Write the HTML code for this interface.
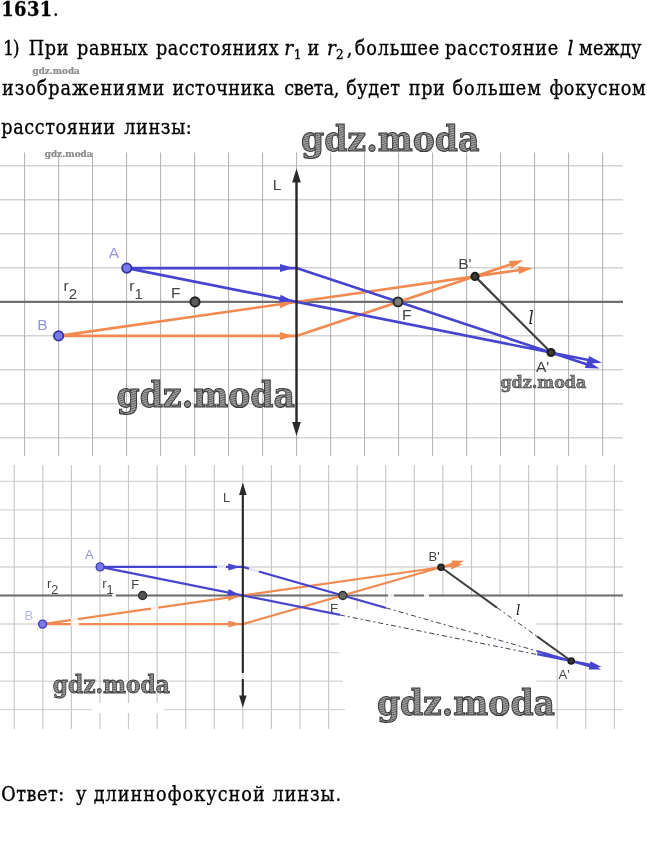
<!DOCTYPE html>
<html lang="ru"><head><meta charset="utf-8"><title>1631</title>
<style>
html,body{margin:0;padding:0;background:#fff}
body{width:647px;height:842px;position:relative;overflow:hidden}
svg{position:absolute;left:0;top:0;display:block}
svg text{font-family:"Liberation Sans",sans-serif}
</style></head><body>
<svg width="647" height="842" viewBox="0 0 647 842">
<defs><pattern id="hatch" width="2.2" height="2.2" patternUnits="userSpaceOnUse" patternTransform="rotate(-18)"><rect width="2.2" height="2.2" fill="#a4a4a4"/><rect width="2.2" height="0.9" fill="#5e5e5e"/></pattern></defs>
<path d="M0 165.8H623M0 199.8H623M0 233.8H623M0 267.8H623M0 301.8H623M0 335.8H623M0 369.8H623M0 403.8H623M0 437.8H623" stroke="#d4d4d4" stroke-width="1.5" fill="none"/>
<path d="M24.6 152.5V456M58.6 152.5V456M92.6 152.5V456M126.6 152.5V456M160.6 152.5V456M194.6 152.5V456M228.6 152.5V456M262.6 152.5V456M296.6 152.5V456M330.6 152.5V456M364.6 152.5V456M398.6 152.5V456M432.6 152.5V456M466.6 152.5V456M500.6 152.5V456M534.6 152.5V456M568.6 152.5V456M602.6 152.5V456" stroke="#a6a6a6" stroke-width="0.9" fill="none"/>
<path d="M0 301.9H623" stroke="#6e6e6e" stroke-width="2.4"/>
<path d="M58.6 335.9H296.5L512.7 263.8M58.6 335.9L521.3 269.8" stroke="#f08a50" stroke-width="2.6" fill="none" stroke-linejoin="round"/>
<path d="M294.0 335.9L280.0 339.9L280.0 331.9ZM293.5 302.3L280.2 308.3L279.1 300.3ZM523.4 260.2L511.4 268.4L508.8 260.9ZM532.4 268.2L519.1 274.1L518.0 266.2Z" fill="#f08a50"/>
<path d="M126.8 268.1H296.5L588.8 365.1M126.8 268.1L591.0 360.5" stroke="#4744d0" stroke-width="2.6" fill="none" stroke-linejoin="round"/>
<path d="M294.0 268.1L280.0 272.1L280.0 264.1ZM293.5 301.3L279.0 302.5L280.6 294.7ZM599.4 368.6L584.8 368.0L587.4 360.4ZM602.0 362.7L587.5 363.8L589.0 356.0Z" fill="#4744d0"/>
<path d="M296.5 178V426" stroke="#262626" stroke-width="2.4"/>
<path d="M296.5 168.5L300.8 182.5L292.2 182.5ZM296.5 436.0L292.2 422.0L300.8 422.0Z" fill="#2a2a2a"/>
<path d="M475.0 276.4L551.0 352.5" stroke="#3c3c3c" stroke-width="2.2"/>
<circle cx="126.8" cy="268.1" r="4.7" fill="#7a78ee" stroke="#33339c" stroke-width="1.8"/>
<circle cx="58.6" cy="335.9" r="4.7" fill="#7a78ee" stroke="#33339c" stroke-width="1.8"/>
<circle cx="195.0" cy="301.9" r="4.6" fill="#5a5a5a" stroke="#222" stroke-width="1.9"/>
<circle cx="398.0" cy="301.9" r="4.5" fill="#7a7a7a" stroke="#222" stroke-width="1.9"/>
<circle cx="475.0" cy="276.4" r="3.6" fill="#3a3a3a" stroke="#1e1e1e" stroke-width="2"/>
<circle cx="551.0" cy="352.5" r="3.6" fill="#3a3a3a" stroke="#1e1e1e" stroke-width="2"/>
<text x="272.8" y="190.3" font-size="15.5" fill="#444" >L</text>
<text x="108.8" y="257.5" font-size="15.5" fill="#9694e0" >A</text>
<text x="37.2" y="330.1" font-size="15.5" fill="#9694e0" >B</text>
<text x="63.6" y="291.3" font-size="15.5" fill="#444">r<tspan dy="7.8" font-size="15.0">2</tspan></text>
<text x="129.3" y="291.3" font-size="15.5" fill="#444">r<tspan dy="7.8" font-size="15.0">1</tspan></text>
<text x="171" y="297.6" font-size="15.5" fill="#444" >F</text>
<text x="402" y="320.2" font-size="15.5" fill="#444" >F</text>
<text x="458.2" y="268.8" font-size="15.5" fill="#444" >B'</text>
<text x="536" y="371.7" font-size="15.5" fill="#444" >A'</text>
<text x="528.5" y="323.8" font-size="18" fill="#222" style="font-family:'DejaVu Serif Condensed','Liberation Serif',serif;font-style:italic">l</text>
<path d="M0 481.3H623M0 509.9H623M0 538.4H623M0 567.0H623M0 595.5H623M0 624.0H623M0 652.6H623M0 681.1H623M0 709.7H623" stroke="#d6d6d6" stroke-width="1.3" fill="none"/>
<path d="M14.2 465V729M42.8 465V729M71.4 465V729M99.9 465V729M128.5 465V729M157.1 465V729M185.7 465V729M214.3 465V729M242.8 465V729M271.4 465V729M300.0 465V729M328.6 465V729M357.2 465V729M385.7 465V729M414.3 465V729M442.9 465V729M471.5 465V729M500.1 465V729M528.6 465V729M557.2 465V729M585.8 465V729M614.4 465V729" stroke="#c8c8c8" stroke-width="1.15" fill="none"/>
<path d="M340 613L386 603L395 597.3L536 597.3L536.5 735L342 735L346 700L340 690L347 670L338 650Z" fill="#fff"/>
<path d="M0 595.5H623" stroke="#6e6e6e" stroke-width="2"/>
<path d="M42.6 624.1H242.8L454.8 563.3M42.6 624.1L453.3 565.5" stroke="#f08a50" stroke-width="2.2" fill="none" stroke-linejoin="round"/>
<path d="M240.3 624.1L228.3 627.6L228.3 620.6ZM239.8 595.9L228.4 601.1L227.4 594.2ZM464.1 560.7L453.5 567.4L451.6 560.6ZM462.8 564.2L451.4 569.4L450.4 562.4Z" fill="#f08a50"/>
<path d="M100.1 566.9H242.8L591.8 666.9M100.1 566.9L592.2 665.2" stroke="#4744d0" stroke-width="2.2" fill="none" stroke-linejoin="round"/>
<path d="M240.3 566.9L228.3 570.4L228.3 563.4ZM239.8 594.9L227.3 596.0L228.7 589.1ZM601.0 669.5L588.5 669.6L590.4 662.9ZM601.6 667.1L589.1 668.2L590.5 661.3Z" fill="#4744d0"/>
<path d="M242.8 492V699" stroke="#262626" stroke-width="2.1"/>
<path d="M242.8 482.5L246.6 495.0L239.1 495.0ZM242.8 707.5L239.1 695.5L246.6 695.5Z" fill="#2a2a2a"/>
<path d="M441.0 567.3L571.2 661.0" stroke="#3c3c3c" stroke-width="2"/>
<path d="M386.0 607.9L537.0 651.0M340.0 615.0L537.0 654.5M497.0 607.6L537.0 636.4" stroke="#fff" stroke-width="4.5" fill="none"/>
<path d="M386.0 607.9L537.0 651.0M340.0 615.0L537.0 654.5M497.0 607.6L537.0 636.4" stroke="#2a2a40" stroke-width="0.9" stroke-dasharray="5 3 2 3" fill="none"/>
<path d="M217 567h9M249 568.7l10 2.9M71 620.2l7-1M71 624.1h8M112 595.5h4M388 595.5h6M424 595.5h5M151 608.7l7-1M242.8 673v6" stroke="#fff" stroke-width="3.2" fill="none" opacity="0.85"/>
<rect x="92" y="703" width="72" height="10" fill="#fff"/>
<circle cx="100.1" cy="566.9" r="4.0" fill="#7a78ee" stroke="#3a3aa8" stroke-width="1.3"/>
<circle cx="42.6" cy="624.1" r="4.0" fill="#7a78ee" stroke="#3a3aa8" stroke-width="1.3"/>
<circle cx="142.6" cy="595.5" r="4.0" fill="#555" stroke="#2a2a2a" stroke-width="1.3"/>
<circle cx="342.8" cy="595.5" r="4.0" fill="#666" stroke="#2a2a2a" stroke-width="1.3"/>
<circle cx="441.0" cy="567.3" r="2.9" fill="#3a3a3a" stroke="#1e1e1e" stroke-width="1.8"/>
<circle cx="571.2" cy="661.0" r="2.9" fill="#3a3a3a" stroke="#1e1e1e" stroke-width="1.8"/>
<text x="223" y="501.8" font-size="13" fill="#444" >L</text>
<text x="85" y="558.5" font-size="13" fill="#9694e0" >A</text>
<text x="24.5" y="619.5" font-size="13" fill="#b9b8ea" >B</text>
<text x="47.0" y="587.5" font-size="13" fill="#444">r<tspan dy="6.5" font-size="12.6">2</tspan></text>
<text x="102.2" y="587.5" font-size="13" fill="#444">r<tspan dy="6.5" font-size="12.6">1</tspan></text>
<text x="131.2" y="588.7" font-size="13" fill="#444" >F</text>
<text x="330" y="612.5" font-size="13" fill="#444" >F</text>
<text x="428.5" y="561" font-size="13" fill="#444" >B'</text>
<text x="558.5" y="678.5" font-size="13" fill="#444" >A'</text>
<text x="516" y="615" font-size="15" fill="#222" style="font-family:'DejaVu Serif Condensed','Liberation Serif',serif;font-style:italic">l</text>
<text x="301" y="150.8" textLength="178.5" lengthAdjust="spacingAndGlyphs" style="font-family:'DejaVu Serif','Liberation Serif',serif" font-weight="bold" font-size="36" fill="url(#hatch)" stroke="#3a3a3a" stroke-width="1.1">gdz.moda</text>
<text x="116.5" y="407" textLength="178.5" lengthAdjust="spacingAndGlyphs" style="font-family:'DejaVu Serif','Liberation Serif',serif" font-weight="bold" font-size="36" fill="url(#hatch)" stroke="#3a3a3a" stroke-width="1.1">gdz.moda</text>
<text x="500.4" y="387.5" textLength="86" lengthAdjust="spacingAndGlyphs" style="font-family:'DejaVu Serif','Liberation Serif',serif" font-weight="bold" font-size="17.5" fill="url(#hatch)" stroke="#3a3a3a" stroke-width="0.6">gdz.moda</text>
<text x="32.5" y="73.5" textLength="47.3" lengthAdjust="spacingAndGlyphs" style="font-family:'DejaVu Serif','Liberation Serif',serif" font-weight="bold" font-size="10" fill="#8e8e8e" stroke="#777" stroke-width="0.2">gdz.moda</text>
<text x="44.7" y="157" textLength="47.9" lengthAdjust="spacingAndGlyphs" style="font-family:'DejaVu Serif','Liberation Serif',serif" font-weight="bold" font-size="10" fill="#8e8e8e" stroke="#777" stroke-width="0.2">gdz.moda</text>
<text x="52.8" y="693.4" textLength="117" lengthAdjust="spacingAndGlyphs" style="font-family:'DejaVu Serif','Liberation Serif',serif" font-weight="bold" font-size="25" fill="url(#hatch)" stroke="#3a3a3a" stroke-width="0.9">gdz.moda</text>
<text x="376.9" y="714.5" textLength="178" lengthAdjust="spacingAndGlyphs" style="font-family:'DejaVu Serif','Liberation Serif',serif" font-weight="bold" font-size="36" fill="url(#hatch)" stroke="#3a3a3a" stroke-width="1.1">gdz.moda</text>
<text x="1.2" y="15.9" textLength="51.0" lengthAdjust="spacing" font-size="19.9" fill="#000" stroke="#000" stroke-width="0.3" style="font-family:'DejaVu Serif Condensed','DejaVu Serif','Liberation Serif',serif;font-weight:bold" >1631</text>
<text x="53.0" y="15.9" textLength="3.3" lengthAdjust="spacing" font-size="19.6" fill="#000" stroke="#000" stroke-width="0.3" style="font-family:'DejaVu Serif Condensed','DejaVu Serif','Liberation Serif',serif" >.</text>
<text x="3" y="55.2" textLength="16.7" lengthAdjust="spacing" font-size="19.6" fill="#000" stroke="#000" stroke-width="0.3" style="font-family:'DejaVu Serif Condensed','DejaVu Serif','Liberation Serif',serif" >1)</text>
<text x="28.7" y="55.2" textLength="39.7" lengthAdjust="spacing" font-size="19.6" fill="#000" stroke="#000" stroke-width="0.3" style="font-family:'DejaVu Serif Condensed','DejaVu Serif','Liberation Serif',serif" >При</text>
<text x="77" y="55.2" textLength="70.6" lengthAdjust="spacing" font-size="19.6" fill="#000" stroke="#000" stroke-width="0.3" style="font-family:'DejaVu Serif Condensed','DejaVu Serif','Liberation Serif',serif" >равных</text>
<text x="156" y="55.2" textLength="122.7" lengthAdjust="spacing" font-size="19.6" fill="#000" stroke="#000" stroke-width="0.3" style="font-family:'DejaVu Serif Condensed','DejaVu Serif','Liberation Serif',serif" >расстояниях</text>
<text x="307.6" y="55.2" textLength="10.8" lengthAdjust="spacing" font-size="19.6" fill="#000" stroke="#000" stroke-width="0.3" style="font-family:'DejaVu Serif Condensed','DejaVu Serif','Liberation Serif',serif" >и</text>
<text x="354.8" y="55.2" textLength="84.5" lengthAdjust="spacing" font-size="19.6" fill="#000" stroke="#000" stroke-width="0.3" style="font-family:'DejaVu Serif Condensed','DejaVu Serif','Liberation Serif',serif" >большее</text>
<text x="445" y="55.2" textLength="113.2" lengthAdjust="spacing" font-size="19.6" fill="#000" stroke="#000" stroke-width="0.3" style="font-family:'DejaVu Serif Condensed','DejaVu Serif','Liberation Serif',serif" >расстояние</text>
<text x="579" y="55.2" textLength="62.3" lengthAdjust="spacing" font-size="19.6" fill="#000" stroke="#000" stroke-width="0.3" style="font-family:'DejaVu Serif Condensed','DejaVu Serif','Liberation Serif',serif" >между</text>
<text x="284.2" y="55.2" textLength="8.4" lengthAdjust="spacing" font-size="20.5" fill="#000" stroke="#000" stroke-width="0.3" style="font-family:'DejaVu Serif Condensed','DejaVu Serif','Liberation Serif',serif;font-style:italic" >r</text>
<text x="293.7" y="58.800000000000004" textLength="6.3" lengthAdjust="spacing" font-size="13.5" fill="#000" stroke="#000" stroke-width="0.3" style="font-family:'DejaVu Serif Condensed','DejaVu Serif','Liberation Serif',serif" >1</text>
<text x="327" y="55.2" textLength="8.0" lengthAdjust="spacing" font-size="20.5" fill="#000" stroke="#000" stroke-width="0.3" style="font-family:'DejaVu Serif Condensed','DejaVu Serif','Liberation Serif',serif;font-style:italic" >r</text>
<text x="336" y="58.800000000000004" textLength="7.5" lengthAdjust="spacing" font-size="13.5" fill="#000" stroke="#000" stroke-width="0.3" style="font-family:'DejaVu Serif Condensed','DejaVu Serif','Liberation Serif',serif" >2</text>
<text x="346.8" y="55.2" textLength="2.5" lengthAdjust="spacing" font-size="19.6" fill="#000" stroke="#000" stroke-width="0.3" style="font-family:'DejaVu Serif Condensed','DejaVu Serif','Liberation Serif',serif" >,</text>
<text x="567.4" y="55.2" textLength="5.0" lengthAdjust="spacing" font-size="20.5" fill="#000" stroke="#000" stroke-width="0.3" style="font-family:'DejaVu Serif Condensed','DejaVu Serif','Liberation Serif',serif;font-style:italic" >l</text>
<text x="2" y="94.5" textLength="162.2" lengthAdjust="spacing" font-size="19.6" fill="#000" stroke="#000" stroke-width="0.3" style="font-family:'DejaVu Serif Condensed','DejaVu Serif','Liberation Serif',serif" >изображениями</text>
<text x="172.5" y="94.5" textLength="102.2" lengthAdjust="spacing" font-size="19.6" fill="#000" stroke="#000" stroke-width="0.3" style="font-family:'DejaVu Serif Condensed','DejaVu Serif','Liberation Serif',serif" >источника</text>
<text x="284.2" y="94.5" textLength="55.1" lengthAdjust="spacing" font-size="19.6" fill="#000" stroke="#000" stroke-width="0.3" style="font-family:'DejaVu Serif Condensed','DejaVu Serif','Liberation Serif',serif" >света,</text>
<text x="346.3" y="94.5" textLength="53.8" lengthAdjust="spacing" font-size="19.6" fill="#000" stroke="#000" stroke-width="0.3" style="font-family:'DejaVu Serif Condensed','DejaVu Serif','Liberation Serif',serif" >будет</text>
<text x="408.8" y="94.5" textLength="36.0" lengthAdjust="spacing" font-size="19.6" fill="#000" stroke="#000" stroke-width="0.3" style="font-family:'DejaVu Serif Condensed','DejaVu Serif','Liberation Serif',serif" >при</text>
<text x="452.5" y="94.5" textLength="88.5" lengthAdjust="spacing" font-size="19.6" fill="#000" stroke="#000" stroke-width="0.3" style="font-family:'DejaVu Serif Condensed','DejaVu Serif','Liberation Serif',serif" >большем</text>
<text x="549.4" y="94.5" textLength="96.4" lengthAdjust="spacing" font-size="19.6" fill="#000" stroke="#000" stroke-width="0.3" style="font-family:'DejaVu Serif Condensed','DejaVu Serif','Liberation Serif',serif" >фокусном</text>
<text x="1.3" y="134.0" textLength="113.7" lengthAdjust="spacing" font-size="19.6" fill="#000" stroke="#000" stroke-width="0.3" style="font-family:'DejaVu Serif Condensed','DejaVu Serif','Liberation Serif',serif" >расстоянии</text>
<text x="124.2" y="134.0" textLength="67.6" lengthAdjust="spacing" font-size="19.6" fill="#000" stroke="#000" stroke-width="0.3" style="font-family:'DejaVu Serif Condensed','DejaVu Serif','Liberation Serif',serif" >линзы:</text>
<text x="1.3" y="800.6" textLength="63.0" lengthAdjust="spacing" font-size="19.6" fill="#000" stroke="#000" stroke-width="0.3" style="font-family:'DejaVu Serif Condensed','DejaVu Serif','Liberation Serif',serif" >Ответ:</text>
<text x="76" y="800.6" textLength="12.6" lengthAdjust="spacing" font-size="19.6" fill="#000" stroke="#000" stroke-width="0.3" style="font-family:'DejaVu Serif Condensed','DejaVu Serif','Liberation Serif',serif" >у</text>
<text x="93.7" y="800.6" textLength="171.0" lengthAdjust="spacing" font-size="19.6" fill="#000" stroke="#000" stroke-width="0.3" style="font-family:'DejaVu Serif Condensed','DejaVu Serif','Liberation Serif',serif" >длиннофокусной</text>
<text x="272.5" y="800.6" textLength="68.5" lengthAdjust="spacing" font-size="19.6" fill="#000" stroke="#000" stroke-width="0.3" style="font-family:'DejaVu Serif Condensed','DejaVu Serif','Liberation Serif',serif" >линзы.</text>
</svg>
</body></html>
